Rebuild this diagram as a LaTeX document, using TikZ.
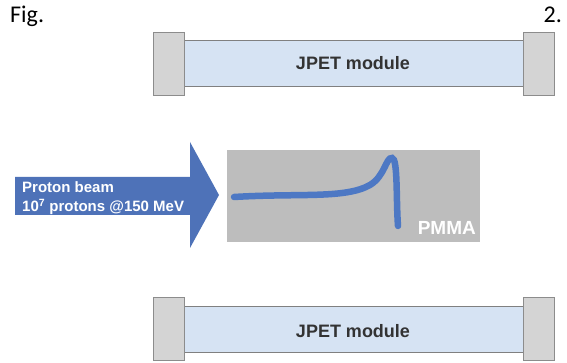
\documentclass[tikz,border=0pt]{standalone}
\usepackage{fontspec}
\setmainfont{Liberation Sans}
\newfontfamily\figfont{Carlito}
\begin{document}
\begin{tikzpicture}[x=1pt,y=-1pt,
  endcap/.style={draw=black!45,fill=black!17,line width=0.8pt},
  modbar/.style={draw=black!50,fill=barfill,line width=0.8pt},
  lbl/.style={font=\fontsize{18}{20}\selectfont\bfseries,text=black!80},
  wlbl/.style={font=\fontsize{15}{19}\selectfont\bfseries,text=white,anchor=base west,inner sep=0pt},
  figlbl/.style={font=\figfont\fontsize{24}{26}\selectfont,text=black,inner sep=0pt}]
\definecolor{beamblue}{HTML}{4E72B8}
\definecolor{trackblue}{HTML}{4D78C4}
\definecolor{pmmagray}{HTML}{BDBDBD}
\definecolor{barfill}{HTML}{D6E3F3}
\useasboundingbox (0,0) rectangle (567,363);
\fill[white] (0,0) rectangle (567,363);
% labels
\node[figlbl,anchor=base west] (fig) at (10,23) {Fig.};
\node[figlbl,anchor=base east] (num) at (562,23) {2.};
% top module
\node[modbar,minimum width=339pt,minimum height=46pt,inner sep=0pt] (topbar) at (353.5,63) {};
\node[endcap,minimum width=31pt,minimum height=63pt,inner sep=0pt] (topL) at (168.5,63.5) {};
\node[endcap,minimum width=31pt,minimum height=63pt,inner sep=0pt] (topR) at (538.5,63.5) {};
\node[lbl] (toptext) at (353,63) {JPET module};
% bottom module
\node[modbar,minimum width=339pt,minimum height=46pt,inner sep=0pt] (botbar) at (353.5,329) {};
\node[endcap,minimum width=31pt,minimum height=63pt,inner sep=0pt] (botL) at (168.5,329) {};
\node[endcap,minimum width=31pt,minimum height=63pt,inner sep=0pt] (botR) at (538.5,329) {};
\node[lbl] (bottext) at (353,331) {JPET module};
% PMMA block
\node[fill=pmmagray,minimum width=253pt,minimum height=92pt,inner sep=0pt] (pmma) at (353.5,196) {};
\node[font=\fontsize{19}{20}\selectfont\bfseries,text=white,anchor=east,inner sep=0pt] (pmmatext) at (476,228) {PMMA};
% track
\coordinate (t0) at (234,197);
\coordinate (t1) at (392,158);
\coordinate (t2) at (398,226);
\draw[trackblue,line width=6.5pt,line cap=round] (t0) .. controls (300,193) and (345,199) .. (370,185)
  .. controls (385,176) and (386,157) .. (t1)
  .. controls (398,158) and (396,200) .. (t2);
% arrow
\coordinate (a1) at (15,177);
\coordinate (a2) at (190,177);
\coordinate (a3) at (190,142);
\coordinate (tip) at (219,195);
\coordinate (a5) at (190,248);
\coordinate (a6) at (190,215);
\coordinate (a7) at (15,215);
\fill[beamblue] (a1) -- (a2) -- (a3) -- (tip) -- (a5) -- (a6) -- (a7) -- cycle;
\node[wlbl] (beam1) at (22,193) {Proton beam};
\node[wlbl] (beam2) at (22,212) {10$^{\mathbf 7}$ protons @150 MeV};
\end{tikzpicture}
\end{document}
